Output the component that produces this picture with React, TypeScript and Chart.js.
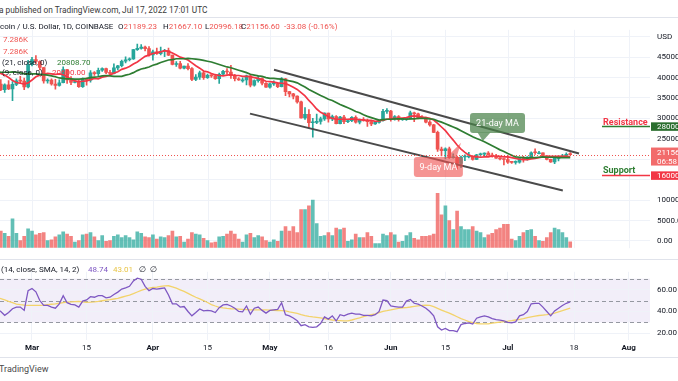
import React, { useEffect, useRef } from 'react';
import { Chart, registerables } from 'chart.js';

Chart.register(...registerables);

const FONT = 'Roboto, "Noto Sans", "DejaVu Sans", sans-serif';

// ---------------- data ----------------
// index 0 = 2022-02-20 ; x value is "days since 2022-03-01"
const FIRST_DAY = -9;

const opens = [
  40120, 38380, 37030, 38250, 37250, 38330, 39220, 39120, 37710,
  43190, 44420, 43920, 42460, 39150, 39400, 38420, 38060, 38740, 41980, 39440, 38790, 38820, 37790, 39670, 39340, 41140, 40950, 41800, 42200, 41280, 41020, 42370, 42900, 44000, 44350, 44540, 46830, 47140, 47450, 47070,
  45540, 46300, 45830, 46440, 46600, 45500, 43200, 43450, 42280, 42780, 42200, 39520, 40100, 41160, 39950, 40550, 40400, 39700, 40800, 41500, 41370, 40480, 39710, 39450, 39450, 40430, 38120, 39240, 39740, 38600,
  37640, 38470, 38530, 37750, 39690, 36550, 36010, 35470, 34060, 30100, 31000, 28940, 29050, 29280, 29880, 31300, 29850, 30430, 28700, 30300, 29200, 29430, 30290, 29100, 29650, 29540, 29200, 28630, 29030, 29470, 31730,
  31800, 29800, 30450, 29700, 29850, 29900, 31370, 31120, 30200, 30100, 29090, 28420, 26570, 22490, 22130, 22570, 20380, 20470, 19000, 20550, 20570, 20720, 19960, 21110, 21230, 21490, 21030, 20730, 20280, 20100,
  19940, 19280, 19250, 19300, 20220, 20170, 20550, 21600, 21590, 21590, 20850, 19960, 19330, 20230, 20580, 20830, 21189.23,
];
const highs = [
  40150, 39490, 38450, 39270, 38990, 39700, 40300, 39870, 44200,
  44950, 45400, 44100, 42530, 39670, 39660, 39560, 39420, 42600, 42040, 40240, 39370, 39310, 39950, 39880, 41720, 41480, 42340, 42400, 42300, 41740, 43360, 43000, 44250, 45100, 44800, 46920, 48190, 48100, 47700, 47600,
  46700, 47200, 47440, 46880, 47200, 45510, 43920, 43970, 42800, 43430, 42420, 40700, 41560, 41500, 40860, 40700, 40620, 41110, 41750, 42200, 42980, 40800, 39990, 39930, 40620, 40790, 39470, 40370, 39930, 38800,
  38670, 39170, 38640, 39980, 39840, 36650, 36130, 35500, 34240, 32650, 32170, 30050, 31060, 30320, 31380, 31320, 30790, 30690, 30520, 30760, 29620, 30450, 30650, 29830, 30200, 29860, 29370, 29200, 29560, 32200, 32390,
  31980, 30670, 30690, 29980, 30170, 31770, 31560, 31330, 30690, 30330, 29450, 28560, 26880, 23000, 22800, 22980, 21350, 20760, 20790, 21060, 21710, 20870, 21200, 21520, 21600, 21870, 21520, 21180, 20400, 20140,
  20880, 19430, 19640, 20350, 20740, 20660, 21820, 22530, 21960, 21600, 20860, 20050, 20250, 20890, 21200, 21580, 21667.1,
];
const lows = [
  38020, 36810, 36360, 37060, 34330, 38010, 38590, 37020, 37450,
  42850, 43330, 41860, 38600, 38630, 38110, 37160, 37880, 38680, 38550, 38240, 38670, 37610, 37580, 38120, 38860, 40550, 40220, 41520, 40940, 40510, 40900, 41840, 42580, 43600, 44090, 44440, 46670, 46960, 46540, 45220,
  44260, 45650, 45530, 45130, 45370, 43100, 42730, 42120, 42140, 41890, 39220, 39250, 39570, 39570, 39800, 40050, 39560, 38560, 40570, 40850, 39760, 39200, 39300, 38870, 38200, 37700, 37870, 38880, 38200, 37600,
  37390, 38050, 37520, 37680, 35580, 35260, 34790, 33720, 30030, 29750, 27720, 25400, 28720, 28610, 29480, 29100, 29430, 28680, 28670, 28730, 28950, 29230, 28850, 28650, 29300, 28030, 28250, 28560, 28810, 29300, 31220,
  29320, 29580, 29300, 29480, 29500, 29880, 29230, 29850, 29930, 28870, 28100, 26500, 21900, 20830, 20080, 20230, 20270, 17600, 17950, 19640, 20360, 19770, 19890, 20740, 20910, 20980, 20520, 20200, 19850, 18630,
  18980, 18980, 18780, 19060, 19300, 19780, 20250, 21200, 21320, 20660, 19870, 19240, 18910, 19620, 20390, 20460, 20996.18,
];
const closes = [
  38380, 37030, 38250, 37250, 38330, 39220, 39120, 37710, 43190,
  44420, 43920, 42460, 39150, 39400, 38420, 38060, 38740, 41980, 39440, 38790, 38820, 37790, 39670, 39340, 41140, 40950, 41800, 42200, 41280, 41020, 42370, 42900, 44000, 44350, 44540, 46830, 47140, 47450, 47070, 45540,
  46300, 45830, 46440, 46600, 45500, 43200, 43450, 42280, 42780, 42200, 39520, 40100, 41160, 39950, 40550, 40400, 39700, 40800, 41500, 41370, 40480, 39710, 39450, 39450, 40430, 38120, 39240, 39740, 38600, 37640,
  38470, 38530, 37750, 39690, 36550, 36010, 35470, 34060, 30100, 31000, 28940, 29050, 29280, 29880, 31300, 29850, 30430, 28700, 30300, 29200, 29430, 30290, 29100, 29650, 29540, 29200, 28630, 29030, 29470, 31730, 31800,
  29800, 30450, 29700, 29850, 29900, 31370, 31120, 30200, 30100, 29090, 28420, 26570, 22490, 22130, 22570, 20380, 20470, 19000, 20550, 20570, 20720, 19960, 21110, 21230, 21490, 21030, 20730, 20280, 20100, 19940,
  19280, 19250, 19300, 20220, 20170, 20550, 21600, 21590, 21590, 20850, 19960, 19330, 20230, 20580, 20830, 21189.23, 21156.6,
];
// volume, thousands of BTC
const volumesK = [
  18, 22, 19, 15, 38.6, 19, 9, 15, 25,
  22, 17, 19, 20, 9, 10, 14, 17, 21, 18, 15, 7, 9, 17, 18, 20, 14, 9, 16, 8, 9, 15, 17, 13, 16, 13, 10, 21, 19, 14, 13,
  17, 11, 14, 13, 16, 22, 14, 15, 7, 11, 20, 18, 17, 12, 9, 6, 7, 14, 15, 18, 22, 18, 11, 7, 17, 19, 13, 16, 14, 9,
  7, 10, 8, 22, 28, 22, 28, 20, 51, 51, 56, 64, 32, 15, 16, 20, 16, 26, 24, 26, 8, 10, 18, 13, 13, 20, 15, 5, 5, 18, 16,
  20, 17, 7, 8, 16, 20, 12, 10, 15, 15, 16, 18, 73, 44, 56, 36, 24, 49, 28, 24, 24, 28, 22, 20, 13, 17, 19, 24, 26, 31,
  31, 11, 9, 15, 20, 23, 24, 15, 9, 8, 13, 20, 26, 24, 20, 13, 7.286,
];
const ma9 = [
  41600, 41000, 40600, 40000, 39300, 38800, 38600, 38400, 38700,
  39400, 40200, 40600, 40800, 41000, 40900, 40800, 40900, 40700, 40200, 39600, 39200, 39000, 39100, 39200, 39500, 39800, 39700, 40100, 40300, 40600, 41100, 41400, 42000, 42300, 42700, 43300, 43800, 44500, 45200, 45500,
  45900, 46100, 46300, 46600, 46400, 46000, 45500, 45000, 44700, 44300, 43600, 42900, 42300, 41600, 41400, 41000, 40700, 40500, 40400, 40600, 40700, 40500, 40500, 40300, 40300, 40200, 40000, 39800, 39500, 39100,
  39000, 38900, 38700, 38600, 38500, 38100, 37600, 37100, 36300, 35500, 34400, 33400, 32300, 31500, 31000, 30400, 30000, 29800, 29800, 29800, 29800, 29900, 29800, 29700, 29600, 29500, 29500, 29300, 29400, 29600, 29800,
  29900, 30000, 30000, 30100, 30200, 30500, 30600, 30500, 30300, 30200, 30000, 29600, 28800, 27900, 27000, 25800, 24700, 23500, 22500, 21700, 21000, 20700, 20600, 20500, 20600, 20600, 20800, 20800, 20700, 20600,
  20600, 20400, 20200, 20000, 19900, 19900, 20100, 20200, 20400, 20600, 20700, 20700, 20700, 20700, 20700, 20700, 20600,
];
const ma21 = [
  41400, 41300, 41300, 41300, 41400, 41300, 41200, 40900, 40900,
  40900, 40900, 40800, 40700, 40600, 40400, 40200, 39900, 39800, 39700, 39700, 39600, 39600, 39700, 39800, 40000, 40100, 40200, 40400, 40500, 40400, 40300, 40300, 40300, 40600, 40800, 41200, 41700, 42100, 42300, 42600,
  43000, 43300, 43700, 44000, 44300, 44400, 44600, 44600, 44600, 44700, 44600, 44500, 44400, 44200, 44000, 43800, 43500, 43200, 42900, 42600, 42400, 42100, 41800, 41500, 41200, 40800, 40600, 40400, 40300, 40000,
  39800, 39800, 39700, 39600, 39400, 39200, 39000, 38700, 38200, 37700, 37100, 36600, 36100, 35600, 35200, 34700, 34400, 33900, 33400, 33000, 32600, 32200, 31700, 31400, 30900, 30500, 30200, 29900, 29600, 29700, 29800,
  29800, 29900, 29900, 29900, 29800, 29900, 29900, 30000, 30000, 30000, 29900, 29800, 29400, 29100, 28700, 28300, 27900, 27500, 27000, 26500, 26000, 25500, 25100, 24700, 24300, 23800, 23300, 22800, 22300, 21900,
  21400, 21000, 20600, 20500, 20400, 20300, 20400, 20400, 20500, 20600, 20500, 20500, 20500, 20400, 20400, 20400, 20400,
];
const rsi = [
  42, 40, 36.5, 39, 42.5, 44, 44, 41, 59,
  61, 58, 50, 45.5, 45.5, 44, 43, 47, 54.4, 48, 46.5, 46, 44, 49.5, 50.5, 53.5, 53, 54.4, 54.5, 52.5, 53, 55.5, 57.7, 60.5, 61.5, 63, 68, 70.5, 69.5, 63, 59,
  61, 60.5, 61, 61.5, 55, 47, 47, 44, 44.5, 40, 36, 39, 42.3, 40.5, 41, 40.5, 39, 43.5, 46, 46.5, 45, 43, 40, 39.7, 45, 37.5, 43, 44, 41, 38.5,
  41, 41.5, 42, 48, 37, 36, 34, 31.5, 27, 28, 26, 25.5, 26, 29, 35, 33, 36, 31.3, 37, 36, 37.5, 38.5, 37.5, 37.5, 36.5, 36.5, 36, 37, 40, 50.5, 50,
  45, 44.5, 44, 44, 49.5, 51, 47.5, 46.7, 45, 43, 40, 36, 26, 23, 24.5, 22.5, 22.5, 21.5, 28, 29, 29.5, 28.5, 33.8, 35, 36, 35, 33.5, 32.5, 32, 31.5,
  30, 29.5, 30.5, 36, 37, 40, 47, 47.4, 47.4, 44, 40, 36, 40.5, 43, 45.5, 47.5, 48.74,
];
const rsiMa = [
  52.5, 51.8, 50.5, 49.2, 48, 46.8, 46.2, 45.8, 45.6,
  45.5, 45.5, 45.6, 45.8, 46.2, 46.6, 47, 47.5, 48, 48.5, 48.8, 49, 49.2, 48.8, 48.4, 48.5, 48.8, 49.2, 49.8, 50.4, 50.8, 51.4, 52, 53, 54, 55, 56.3, 57.8, 59.3, 60.5, 61.3,
  61.9, 62.3, 62.9, 63.4, 63.5, 62.5, 61.3, 59.8, 58.3, 56.5, 54.7, 53, 51.5, 50, 48.2, 46.3, 45, 43.8, 43.2, 42.8, 42.5, 42.3, 42.1, 41.9, 41.7, 41.5, 41.5, 41.5, 41.5, 41.4,
  41.3, 41.1, 40.9, 40.7, 40.5, 39.7, 39, 38.2, 37.2, 36.3, 35.6, 35, 34.6, 34.1, 33.5, 32.8, 32.2, 31.8, 31.6, 31.4, 31.4, 32.2, 33.2, 34.2, 35.3, 36.1, 37, 37.8, 39, 40.1, 40.7,
  41.5, 42.2, 42.8, 43.4, 43.6, 44.1, 44.7, 45.2, 45.6, 45.7, 45.6, 44.5, 42.8, 41.3, 39.8, 38.4, 36.8, 35.2, 33.5, 32.2, 30.8, 29.9, 29, 28.7, 28.6, 28.7, 29.3, 29.8, 30.3, 30.7,
  31.1, 31.6, 32.2, 32.8, 33.5, 34.3, 35, 35.7, 36.3, 36.7, 37.1, 37.6, 38.5, 39.6, 40.7, 41.9, 43.01,
];

const xTickDays = [0, 14, 31, 45, 61, 76, 92, 106, 122, 139, 153];
const xTickLabels = ['Mar', '15', 'Apr', '15', 'May', '16', 'Jun', '15', 'Jul', '18', 'Aug'];
const xTickIsMonth = [true, false, true, false, true, false, true, false, true, false, true];
const priceTicks = [0, 5000, 10000, 15000, 20000, 25000, 30000, 35000, 40000, 45000, 50000];
const priceTickLabels = ['0.00', '5000.00', '10000.00', '', '', '25000.00', '30000.00', '35000.00', '40000.00', '45000.00', 'USD'];
const rsiTicks = [20, 40, 60];
const rsiLevels = [70, 50, 30];

const lastPrice = 21156.6;
const resistanceLevel = 28000;
const supportLevel = 16000;

const channelUpper = [{ x: 62.05, y: 41910 }, { x: 140.26, y: 21400 }];
const channelLower = [{ x: 55.9, y: 31170 }, { x: 136.1, y: 12350 }];

const callouts = [
  { text: '21-day MA', x: 119.36, y: 28900, w: 55, h: 20, tipX: 115.6, tipY: 24490, side: 'bottom', b1: -20, b2: -7, color: 'rgba(74,130,74,0.72)' },
  { text: '9-day MA', x: 104.2, y: 18090, w: 49, h: 20, tipX: 110, tipY: 24050, side: 'top', b1: 8, b2: 18, color: 'rgba(239,83,80,0.62)' },
];

// -------------- styles --------------
const UP = '#26a69a';
const DOWN = '#ef5350';
const VOL_UP = 'rgba(38,166,154,0.72)';
const VOL_DOWN = 'rgba(239,83,80,0.72)';
const GRID = '#eff2f8';
const TEXT = '#131722';

const X_MIN = -8.205;
const X_MAX = 158.46;

function mainConfig(): any {
  const xs = closes.map((_, i) => i + FIRST_DAY);
  const up = closes.map((c, i) => c >= opens[i]);
  const candleColors = up.map((u) => (u ? UP : DOWN));
  const volColors = up.map((u) => (u ? VOL_UP : VOL_DOWN));

  const decor = {
    id: 'mainDecor',
    beforeDraw(chart: any) {
      const { ctx, chartArea: a, scales } = chart;
      ctx.save();
      ctx.strokeStyle = GRID;
      ctx.lineWidth = 1;
      xTickDays.forEach((d) => {
        const px = Math.round(scales.x.getPixelForValue(d)) + 0.5;
        ctx.beginPath();
        ctx.moveTo(px, a.top);
        ctx.lineTo(px, a.bottom);
        ctx.stroke();
      });
      ctx.restore();
    },
    afterDatasetsDraw(chart: any) {
      const { ctx, chartArea: a, scales } = chart;
      const x = scales.x;
      const y = scales.y;
      ctx.save();
      // last price dotted line
      const py = Math.round(y.getPixelForValue(lastPrice)) + 0.5;
      ctx.strokeStyle = '#ef5350';
      ctx.lineWidth = 1;
      ctx.setLineDash([1, 2]);
      ctx.beginPath();
      ctx.moveTo(a.left, py);
      ctx.lineTo(a.right, py);
      ctx.stroke();
      ctx.setLineDash([]);
      // callouts
      callouts.forEach((c) => {
        const cx = x.getPixelForValue(c.x);
        const cy = y.getPixelForValue(c.y);
        const tx = x.getPixelForValue(c.tipX);
        const ty = y.getPixelForValue(c.tipY);
        const left = cx - c.w / 2;
        const top = cy - c.h / 2;
        ctx.fillStyle = c.color;
        ctx.beginPath();
        const by = c.side === 'bottom' ? top + c.h - 0.5 : top + 0.5;
        ctx.moveTo(cx + c.b1, by);
        ctx.lineTo(tx, ty);
        ctx.lineTo(cx + c.b2, by);
        ctx.closePath();
        ctx.fill();
        ctx.beginPath();
        ctx.roundRect(left, top, c.w, c.h, 3);
        ctx.fill();
        ctx.fillStyle = '#ffffff';
        ctx.font = `9px ${FONT}`;
        ctx.textAlign = 'center';
        ctx.textBaseline = 'middle';
        ctx.fillText(c.text, cx, cy + 0.5);
      });
      ctx.restore();
    },
    afterDraw(chart: any) {
      const { ctx, chartArea: a, scales } = chart;
      const y = scales.y;
      const W = chart.width;
      ctx.save();
      // resistance / support drawings
      const yr = y.getPixelForValue(resistanceLevel);
      const ys = y.getPixelForValue(supportLevel);
      ctx.lineWidth = 1.5;
      ctx.strokeStyle = '#2e7d32';
      ctx.beginPath();
      ctx.moveTo(602, yr);
      ctx.lineTo(a.right, yr);
      ctx.stroke();
      ctx.strokeStyle = '#f23645';
      ctx.beginPath();
      ctx.moveTo(602, ys);
      ctx.lineTo(a.right, ys);
      ctx.stroke();
      ctx.font = `bold 9px ${FONT}`;
      ctx.textAlign = 'left';
      ctx.textBaseline = 'alphabetic';
      ctx.fillStyle = '#f23645';
      ctx.fillText('Resistance', 603, yr - 2);
      ctx.fillStyle = '#2e7d32';
      ctx.fillText('Support', 603, ys - 2.5);

      // axis tags
      ctx.font = `8px ${FONT}`;
      ctx.textBaseline = 'middle';
      const tag = (cy: number, h: number, color: string, lines: string[]) => {
        ctx.fillStyle = color;
        ctx.fillRect(a.right + 1, cy - h / 2, W - a.right, h);
        ctx.fillStyle = '#ffffff';
        const step = 9;
        lines.forEach((t, i) => {
          ctx.fillText(t, a.right + 7, cy + (i - (lines.length - 1) / 2) * step + 0.5);
        });
      };
      tag(yr, 8.5, '#2a6e2e', ['28000.00']);
      tag(y.getPixelForValue(lastPrice) + 2, 18, '#f26b6b', ['21156.60', '06:58']);
      tag(ys, 8.5, '#f23645', ['16000.00']);
      ctx.restore();
    },
  };

  return {
    type: 'bar',
    data: {
      datasets: [
        { type: 'line', label: 'Channel top', data: channelUpper, borderColor: '#4a4a4a', borderWidth: 2, pointRadius: 0, order: 1 },
        { type: 'line', label: 'Channel bottom', data: channelLower, borderColor: '#4a4a4a', borderWidth: 2, pointRadius: 0, order: 1 },
        { type: 'line', label: 'MA 21', data: xs.map((x, i) => ({ x, y: ma21[i] })), borderColor: '#2e7d32', borderWidth: 1.7, pointRadius: 0, order: 2 },
        { type: 'line', label: 'MA 9', data: xs.map((x, i) => ({ x, y: ma9[i] })), borderColor: '#f23645', borderWidth: 1.7, pointRadius: 0, order: 2 },
        { type: 'bar', label: 'Body', data: xs.map((x, i) => ({ x, y: [opens[i], closes[i]] })), backgroundColor: candleColors, barThickness: 3, minBarLength: 1, grouped: false, order: 3 },
        { type: 'bar', label: 'Wick', data: xs.map((x, i) => ({ x, y: [lows[i], highs[i]] })), backgroundColor: candleColors, barThickness: 1, grouped: false, order: 4 },
        { type: 'bar', label: 'Volume', yAxisID: 'yv', data: xs.map((x, i) => ({ x, y: volumesK[i] })), backgroundColor: volColors, barThickness: 3, grouped: false, order: 5 },
      ],
    },
    options: {
      animation: false,
      responsive: false,
      devicePixelRatio: 1,
      events: [],
      layout: { padding: 0, autoPadding: false },
      plugins: { legend: { display: false }, tooltip: { enabled: false } },
      scales: {
        x: { type: 'linear', min: X_MIN, max: X_MAX, offset: false, display: false },
        y: {
          position: 'right',
          min: -1767,
          max: 51690,
          afterBuildTicks: (s: any) => { s.ticks = priceTicks.map((v) => ({ value: v })); },
          afterFit: (s: any) => { s.width = 28; },
          grid: { color: GRID, drawTicks: false },
          border: { display: false },
          ticks: {
            autoSkip: false,
            padding: 7,
            color: TEXT,
            font: { family: FONT, size: 8 },
            callback: (_v: any, i: number) => priceTickLabels[i],
          },
        },
        yv: { display: false, min: -1.2, max: 294 },
      },
    },
    plugins: [decor],
  };
}

function rsiConfig(): any {
  const xs = rsi.map((_, i) => i + FIRST_DAY);
  const band = {
    id: 'rsiBand',
    beforeDraw(chart: any) {
      const { ctx, chartArea: a, scales } = chart;
      const y = scales.y;
      ctx.save();
      const y70 = y.getPixelForValue(70);
      const y30 = y.getPixelForValue(30);
      ctx.fillStyle = 'rgba(126,87,194,0.1)';
      ctx.fillRect(a.left, y70, a.right - a.left, y30 - y70);
      ctx.restore();
    },
    beforeDatasetsDraw(chart: any) {
      const { ctx, chartArea: a, scales } = chart;
      const y = scales.y;
      ctx.save();
      ctx.strokeStyle = '#9598a1';
      ctx.lineWidth = 1;
      ctx.setLineDash([4, 3]);
      rsiLevels.forEach((v) => {
        const py = Math.round(y.getPixelForValue(v)) + 0.5;
        ctx.beginPath();
        ctx.moveTo(a.left, py);
        ctx.lineTo(a.right, py);
        ctx.stroke();
      });
      ctx.restore();
    },
  };
  return {
    type: 'line',
    data: {
      datasets: [
        { label: 'RSI', data: xs.map((x, i) => ({ x, y: rsi[i] })), borderColor: '#7e57c2', borderWidth: 1.3, pointRadius: 0 },
        { label: 'RSI MA', data: xs.map((x, i) => ({ x, y: rsiMa[i] })), borderColor: '#f3d36b', borderWidth: 1.3, pointRadius: 0 },
      ],
    },
    options: {
      animation: false,
      responsive: false,
      devicePixelRatio: 1,
      events: [],
      layout: { padding: 0, autoPadding: false },
      plugins: { legend: { display: false }, tooltip: { enabled: false } },
      scales: {
        x: {
          type: 'linear',
          min: X_MIN,
          max: X_MAX,
          offset: false,
          position: 'bottom',
          afterBuildTicks: (s: any) => { s.ticks = xTickDays.map((v) => ({ value: v })); },
          afterFit: (s: any) => { s.height = 17; },
          grid: { color: GRID, drawTicks: false },
          border: { display: false },
          ticks: {
            autoSkip: false,
            maxRotation: 0,
            padding: 3,
            color: TEXT,
            font: (ctx: any) => ({ family: FONT, size: 8, weight: xTickIsMonth[ctx.index] ? 'bold' : 'normal' }),
            callback: (_v: any, i: number) => xTickLabels[i],
          },
        },
        y: {
          position: 'right',
          min: 13.91,
          max: 76.27,
          afterBuildTicks: (s: any) => { s.ticks = rsiTicks.map((v) => ({ value: v })); },
          afterFit: (s: any) => { s.width = 28; },
          grid: { color: GRID, drawTicks: false },
          border: { display: false },
          ticks: {
            autoSkip: false,
            padding: 7,
            color: TEXT,
            font: { family: FONT, size: 8 },
            callback: (v: any) => Number(v).toFixed(2),
          },
        },
      },
    },
    plugins: [band],
  };
}

const abs = (left: number, top: number, extra: any = {}): any => ({
  position: 'absolute',
  left,
  top,
  whiteSpace: 'nowrap',
  fontSize: 8,
  lineHeight: '10px',
  color: TEXT,
  ...extra,
});

const RED = '#ef5350';

export default function App() {
  const mainRef = useRef<HTMLCanvasElement>(null);
  const rsiRef = useRef<HTMLCanvasElement>(null);

  useEffect(() => {
    const c1 = new Chart(mainRef.current as HTMLCanvasElement, mainConfig());
    const c2 = new Chart(rsiRef.current as HTMLCanvasElement, rsiConfig());
    return () => {
      c1.destroy();
      c2.destroy();
    };
  }, []);

  return (
    <div style={{ position: 'fixed', left: 0, top: 0, width: 678, height: 381, background: '#ffffff', overflow: 'hidden', fontFamily: FONT }}>
      <div style={abs(-1, 4, { fontSize: 8.3, lineHeight: '12px', color: '#3a3a3a' })}>a published on TradingView.com, Jul 17, 2022 17:01 UTC</div>
      <div style={{ position: 'absolute', left: 0, top: 17, width: 678, height: 1, background: '#e0e3eb' }} />
      <canvas ref={mainRef} width={678} height={242} style={{ position: 'absolute', left: 0, top: 18, display: 'block' }} />
      <canvas ref={rsiRef} width={678} height={97} style={{ position: 'absolute', left: 0, top: 260, display: 'block' }} />
      <div style={{ position: 'absolute', left: 0, top: 259, width: 678, height: 1, background: '#e0e3eb' }} />
      <div style={{ position: 'absolute', left: 0, top: 357, width: 678, height: 1, background: '#e0e3eb' }} />
      <div style={abs(-1, 363, { fontSize: 9, lineHeight: '12px', color: '#4a4a4a' })}>TradingView</div>

      {/* main legend */}
      <div style={abs(0, 22)}>coin / U.S. Dollar, 1D, COINBASE</div>
      <div style={abs(118, 22)}>O<span style={{ color: RED }}>21189.23</span></div>
      <div style={abs(163, 22)}>H<span style={{ color: RED }}>21667.10</span></div>
      <div style={abs(205, 22)}>L<span style={{ color: RED }}>20996.18</span></div>
      <div style={abs(241, 22)}>C<span style={{ color: RED }}>21156.60</span></div>
      <div style={abs(284, 22, { color: RED })}>-33.08 (-0.16%)</div>
      <div style={abs(3, 34.5, { color: RED })}>7.286K</div>
      <div style={abs(3, 46.5, { color: RED })}>7.286K</div>
      <div style={abs(2, 57.7)}>(21, close, 0)</div>
      <div style={abs(57, 57.7, { color: '#2e7d32' })}>20808.70</div>
      <div style={abs(2, 68.3)}>(9, close, 0)</div>
      <div style={abs(52, 68.3, { color: '#f23645' })}>20600.00</div>

      {/* RSI legend */}
      <div style={abs(1, 264.7)}>(14, close, SMA, 14, 2)</div>
      <div style={abs(88, 264.7, { color: '#7e57c2' })}>48.74</div>
      <div style={abs(113, 264.7, { color: '#e8c547' })}>43.01</div>
      <div style={abs(139, 264.7)}>∅</div>
      <div style={abs(150, 264.7)}>∅</div>
    </div>
  );
}
